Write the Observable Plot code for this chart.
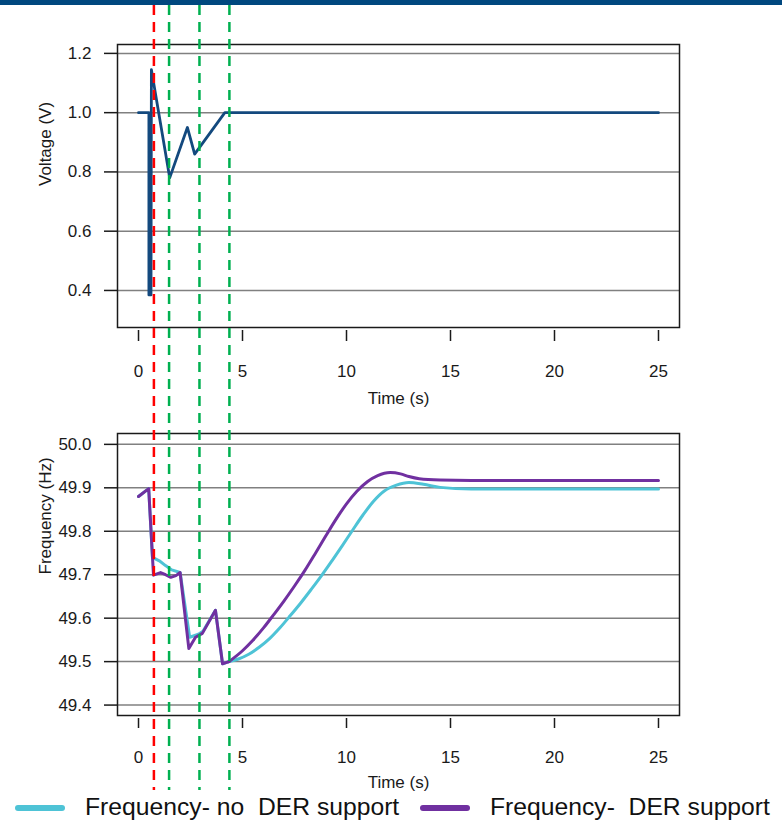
<!DOCTYPE html>
<html><head><meta charset="utf-8">
<script src="https://cdn.jsdelivr.net/npm/d3@7"></script>
<script src="https://cdn.jsdelivr.net/npm/@observablehq/plot@0.6"></script>
<style>
body{margin:0;background:#fff;}
#page{position:relative;width:782px;height:822px;overflow:hidden;font-family:"Liberation Sans",Arial,sans-serif;background:#fff;}
#bar{position:absolute;left:0;top:0;width:782px;height:5px;background:#00487f;}
#top{position:absolute;left:0;top:5px;}
#bottom{position:absolute;left:0;top:410px;}
#overlay{position:absolute;left:0;top:5px;pointer-events:none;}
.sw{position:absolute;height:6px;border-radius:3px;width:50px;top:805px;}
.lt{position:absolute;font-size:24.7px;white-space:pre;line-height:30px;top:792px;color:#111;}
</style></head>
<body><div id="page">
<div id="bar"></div>
<div id="top"></div>
<div id="bottom"></div>
<div id="overlay"></div>
<div class="sw" style="left:15px;background:#4ec3d6"></div>
<div class="lt" style="left:85px">Frequency- no  DER support</div>
<div class="sw" style="left:420px;background:#7030a0"></div>
<div class="lt" style="left:490px">Frequency-  DER support</div>
</div>
<script>
// ---- data ----
const timeTicks = [0, 5, 10, 15, 20, 25];
const voltTicks = [0.4, 0.6, 0.8, 1.0, 1.2];
const freqTicks = [49.4, 49.5, 49.6, 49.7, 49.8, 49.9, 50.0];

const voltTime  = [0, 0.5, 0.5, 0.6, 0.62, 1.5, 2.35, 2.7, 4.15, 25];
const voltValue = [1.0, 1.0, 0.385, 0.385, 1.145, 0.78, 0.95, 0.86, 1.0, 1.0];

// Frequency without DER support (cyan)
const noDerTime = [0, 0.49, 0.67, 1.0, 1.3, 1.6, 2.0, 2.46, 2.88, 3.1, 3.7, 4.04, 4.35,
  4.8, 5.3, 5.8, 6.3, 6.8, 7.3, 7.8, 8.3, 8.8, 9.3, 9.8, 10.3, 10.8, 11.3, 11.8, 12.4, 13.0, 13.7, 14.5, 16.0, 25];
const noDerFreq = [49.880, 49.898, 49.740, 49.732, 49.721, 49.711, 49.705, 49.556, 49.563, 49.570, 49.618, 49.495, 49.500,
  49.506, 49.517, 49.533, 49.553, 49.578, 49.606, 49.635, 49.666, 49.698, 49.732, 49.767, 49.803, 49.838, 49.869, 49.892, 49.906, 49.912, 49.908, 49.901, 49.897, 49.897];

// Frequency with DER support (purple)
const derTime = [0, 0.49, 0.72, 1.06, 1.3, 1.55, 1.8, 2.0, 2.42, 2.74, 3.07, 3.7, 4.04, 4.35,
  5.0, 5.5, 6.0, 6.5, 7.0, 7.5, 8.0, 8.5, 9.0, 9.5, 10.0, 10.5, 11.0, 11.5, 12.1, 12.6, 13.0, 13.5, 14.5, 16.0, 25];
const derFreq = [49.880, 49.898, 49.699, 49.705, 49.700, 49.694, 49.698, 49.705, 49.530, 49.556, 49.565, 49.618, 49.495, 49.500,
  49.525, 49.549, 49.577, 49.608, 49.640, 49.674, 49.710, 49.749, 49.789, 49.828, 49.863, 49.892, 49.914, 49.928, 49.935, 49.932, 49.926, 49.921, 49.918, 49.917, 49.917];

const eventTime  = [0.74, 1.47, 2.93, 4.37];
const eventColor = ["#ff0000", "#00b050", "#00b050", "#00b050"];

// ---- tables ----
const voltData = voltTime.map((t, i) => ({t, v: voltValue[i]}));
const noDerData = noDerTime.map((t, i) => ({t, f: noDerFreq[i]}));
const derData = derTime.map((t, i) => ({t, f: derFreq[i]}));
const events = eventTime.map((t, i) => ({t, c: eventColor[i]}));
const stepEnd = 4.35; // events phase (piecewise) vs recovery phase (smooth)

const style = {fontFamily: '"Liberation Sans", Arial, sans-serif', fontSize: "17px", color: "#1a1a1a", background: "transparent", overflow: "visible"};
const xDomain = [-1.01, 26.01];

const topPlot = Plot.plot({
  width: 782, height: 405, marginLeft: 117, marginRight: 103, marginTop: 39, marginBottom: 83,
  style,
  x: {domain: xDomain},
  y: {domain: [0.275, 1.23]},
  marks: [
    Plot.gridY(voltTicks, {stroke: "#808080", strokeOpacity: 1, strokeWidth: 1.5}),
    Plot.line(voltData, {x: "t", y: "v", stroke: "#13497e", strokeWidth: 2.8, strokeLinejoin: "round", strokeLinecap: "round"}),
    Plot.frame({stroke: "#1a1a1a", strokeWidth: 1.5}),
    Plot.axisY(voltTicks, {tickSize: 13, tickPadding: 13, tickFormat: d3.format(".1f"), label: null, strokeWidth: 1.5}),
    Plot.axisX(timeTicks, {tickSize: 11, tickPadding: 23, dy: 3, label: null, strokeWidth: 1.5, tickFormat: d3.format("d")}),
    Plot.text(["Time (s)"], {text: d => d, frameAnchor: "bottom", dy: 71, lineAnchor: "middle"}),
    Plot.text(["Voltage (V)"], {text: d => d, frameAnchor: "left", dx: -72, rotate: -90})
  ]
});
document.getElementById("top").appendChild(topPlot);

const lineOpts = {x: "t", y: "f", strokeWidth: 3, strokeLinejoin: "round", strokeLinecap: "round"};
const bottomPlot = Plot.plot({
  width: 782, height: 382, marginLeft: 117, marginRight: 103, marginTop: 23, marginBottom: 77,
  style,
  x: {domain: xDomain},
  y: {domain: [49.376, 50.025]},
  marks: [
    Plot.gridY(freqTicks, {stroke: "#808080", strokeOpacity: 1, strokeWidth: 1.5}),
    Plot.line(noDerData.filter(d => d.t <= stepEnd), {...lineOpts, stroke: "#4ec3d6", curve: "linear"}),
    Plot.line(noDerData.filter(d => d.t >= stepEnd), {...lineOpts, stroke: "#4ec3d6", curve: "monotone-x"}),
    Plot.line(derData.filter(d => d.t <= stepEnd), {...lineOpts, stroke: "#7030a0", curve: "linear"}),
    Plot.line(derData.filter(d => d.t >= stepEnd), {...lineOpts, stroke: "#7030a0", curve: "monotone-x"}),
    Plot.frame({stroke: "#1a1a1a", strokeWidth: 1.5}),
    Plot.axisY(freqTicks, {tickSize: 13, tickPadding: 13, tickFormat: d3.format(".1f"), label: null, strokeWidth: 1.5}),
    Plot.axisX(timeTicks, {tickSize: 10, tickPadding: 22, dy: 3, label: null, strokeWidth: 1.5, tickFormat: d3.format("d")}),
    Plot.text(["Time (s)"], {text: d => d, frameAnchor: "bottom", dy: 67, lineAnchor: "middle"}),
    Plot.text(["Frequency (Hz)"], {text: d => d, frameAnchor: "left", dx: -72, rotate: -90})
  ]
});
document.getElementById("bottom").appendChild(bottomPlot);

const overlayPlot = Plot.plot({
  width: 782, height: 785, marginLeft: 117, marginRight: 103, marginTop: 0, marginBottom: 0,
  style: {background: "transparent"},
  x: {domain: xDomain, axis: null},
  color: {type: "identity"},
  marks: [
    Plot.ruleX(events, {x: "t", stroke: "c", strokeWidth: 2.5, strokeDasharray: "10,7"})
  ]
});
document.getElementById("overlay").appendChild(overlayPlot);
</script>
</body></html>
